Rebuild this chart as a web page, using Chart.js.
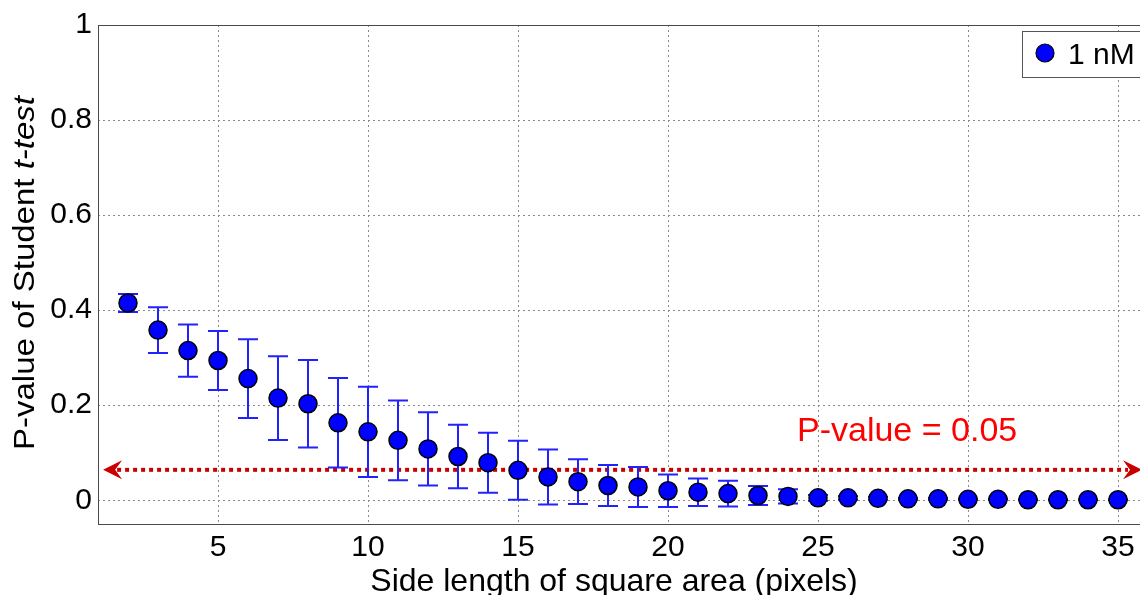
<!DOCTYPE html>
<html>
<head>
<meta charset="utf-8">
<title>P-value vs side length</title>
<script src="https://cdn.jsdelivr.net/npm/chart.js@4.4.1/dist/chart.umd.min.js"></script>
<style>
  html, body { margin: 0; padding: 0; background: #fff; overflow: hidden; }
  #wrap { width: 1140px; height: 595px; overflow: hidden; }
</style>
</head>
<body>
<div id="wrap"><canvas id="pvalChart" width="1160" height="595"></canvas></div>
<script>
// data
const sideLengths = [2, 3, 4, 5, 6, 7, 8, 9, 10, 11, 12, 13, 14, 15, 16, 17, 18,
  19, 20, 21, 22, 23, 24, 25, 26, 27, 28, 29, 30, 31, 32, 33, 34, 35];
const pValues = [0.415, 0.358, 0.315, 0.294, 0.256, 0.215, 0.203, 0.163, 0.144,
  0.126, 0.108, 0.092, 0.079, 0.063, 0.049, 0.039, 0.031, 0.028, 0.020, 0.017,
  0.014, 0.010, 0.008, 0.005, 0.005, 0.004, 0.003, 0.003, 0.002, 0.002, 0.001,
  0.001, 0.001, 0.001];
const pErrors = [0.019, 0.048, 0.055, 0.062, 0.083, 0.088, 0.092, 0.094, 0.095,
  0.084, 0.077, 0.067, 0.063, 0.062, 0.058, 0.047, 0.043, 0.042, 0.034, 0.029,
  0.027, 0.020, 0.015, 0.006, 0.004, 0.003, 0.002, 0.002, 0.001, 0.001, 0.001,
  0.001, 0.001, 0.001];
const xTicks = [5, 10, 15, 20, 25, 30, 35];
const yTicks = [0, 0.2, 0.4, 0.6, 0.8, 1];
const seriesLabel = '1 nM';
const xTitle = 'Side length of square area (pixels)';
const yTitleParts = ['P-value of Student ', 't-test'];   // second part is italic
const thresholdText = 'P-value = 0.05';
const thresholdLevel = 0.064;
const thresholdSpan = [1.17, 35.8];
const thresholdTextAt = [24.3, 0.124];

const FONT = "'Liberation Sans', Arial, sans-serif";
const BLUE = '#0000ff';
const BAR_BLUE = '#2222ff';
const RED_LINE = '#c80000';

function arrowHead(ctx, tipX, tipY, dir) {
  ctx.beginPath();
  ctx.moveTo(tipX, tipY);
  ctx.lineTo(tipX + dir * 19, tipY - 9.5);
  ctx.lineTo(tipX + dir * 12, tipY);
  ctx.lineTo(tipX + dir * 19, tipY + 9.5);
  ctx.closePath();
  ctx.fill();
}

const decorPlugin = {
  id: 'decor',
  beforeDatasetsDraw(chart) {
    const { ctx, chartArea: a, scales: { x, y } } = chart;
    ctx.save();
    // axes box
    ctx.strokeStyle = '#4a4a4a';
    ctx.lineWidth = 1;
    ctx.strokeRect(a.left + 0.5, a.top + 0.5, a.right - a.left, a.bottom - a.top);

    // dotted threshold arrow
    const ly = y.getPixelForValue(thresholdLevel);
    const lx0 = x.getPixelForValue(thresholdSpan[0]);
    const lx1 = x.getPixelForValue(thresholdSpan[1]);
    ctx.strokeStyle = RED_LINE;
    ctx.lineWidth = 4;
    ctx.setLineDash([4, 4]);
    ctx.beginPath();
    ctx.moveTo(lx0 + 14, ly);
    ctx.lineTo(lx1 - 14, ly);
    ctx.stroke();
    ctx.setLineDash([]);
    ctx.fillStyle = RED_LINE;
    arrowHead(ctx, lx0, ly, 1);
    arrowHead(ctx, lx1, ly, -1);

    // error bars
    ctx.strokeStyle = BAR_BLUE;
    ctx.lineWidth = 2;
    sideLengths.forEach((s, i) => {
      const px = x.getPixelForValue(s);
      const top = y.getPixelForValue(pValues[i] + pErrors[i]);
      const bot = y.getPixelForValue(pValues[i] - pErrors[i]);
      ctx.beginPath();
      ctx.moveTo(px, top); ctx.lineTo(px, bot);
      ctx.moveTo(px - 10, top); ctx.lineTo(px + 10, top);
      ctx.moveTo(px - 10, bot); ctx.lineTo(px + 10, bot);
      ctx.stroke();
    });
    ctx.restore();
  },
  afterDraw(chart) {
    const { ctx, chartArea: a, scales: { x, y } } = chart;
    ctx.save();

    // threshold label
    ctx.fillStyle = '#ff0000';
    ctx.font = `34px ${FONT}`;
    ctx.textAlign = 'left';
    ctx.textBaseline = 'alphabetic';
    ctx.fillText(thresholdText, x.getPixelForValue(thresholdTextAt[0]), y.getPixelForValue(thresholdTextAt[1]));

    // x title
    ctx.fillStyle = '#000';
    ctx.font = `32px ${FONT}`;
    ctx.textAlign = 'center';
    ctx.fillText(xTitle, (a.left + a.right) / 2 - 9, 591);

    // y title, with italic t-test (slightly stretched along its length)
    const normalFont = `30px ${FONT}`;
    const italicFont = `italic 30px ${FONT}`;
    ctx.font = normalFont;
    const w1 = ctx.measureText(yTitleParts[0]).width;
    ctx.font = italicFont;
    const w2 = ctx.measureText(yTitleParts[1]).width;
    ctx.translate(34, 273);
    ctx.rotate(-Math.PI / 2);
    ctx.scale(1.1, 1);
    ctx.textAlign = 'left';
    const start = -(w1 + w2) / 2;
    ctx.font = normalFont;
    ctx.fillText(yTitleParts[0], start, 0);
    ctx.font = italicFont;
    ctx.fillText(yTitleParts[1], start + w1, 0);
    ctx.setTransform(1, 0, 0, 1, 0, 0);

    // legend box
    const bx = a.right - 126, by = a.top + 6, bh = 46;
    ctx.fillStyle = '#fff';
    ctx.fillRect(bx, by, 140, bh);
    ctx.strokeStyle = '#555';
    ctx.lineWidth = 1;
    ctx.strokeRect(bx + 0.5, by + 0.5, 140, bh);
    ctx.beginPath();
    ctx.arc(bx + 23, by + 22, 9, 0, Math.PI * 2);
    ctx.fillStyle = BLUE;
    ctx.fill();
    ctx.lineWidth = 1.2;
    ctx.strokeStyle = '#000';
    ctx.stroke();
    ctx.fillStyle = '#000';
    ctx.font = `30px ${FONT}`;
    ctx.textAlign = 'left';
    ctx.fillText(seriesLabel, bx + 46, by + 33);
    ctx.restore();
  }
};

const ctx = document.getElementById('pvalChart').getContext('2d');
const pvalChart = new Chart(ctx, {
  type: 'scatter',
  data: {
    datasets: [{
      label: seriesLabel,
      data: sideLengths.map((s, i) => ({ x: s, y: pValues[i] })),
      backgroundColor: BLUE,
      borderColor: '#000',
      borderWidth: 1.5,
      pointRadius: 9,
      pointHoverRadius: 9
    }]
  },
  options: {
    responsive: false,
    animation: false,
    devicePixelRatio: 1,
    layout: { padding: { top: 25, right: 12, left: 0, bottom: 0 } },
    plugins: {
      legend: { display: false },
      tooltip: { enabled: false }
    },
    scales: {
      x: {
        type: 'linear',
        min: 1,
        max: 36,
        afterFit: (s) => { s.height = 71; },
        afterBuildTicks: (s) => { s.ticks = xTicks.map(v => ({ value: v })); },
        grid: { color: '#8a8a8a', drawTicks: false },
        border: { display: false, dash: [2, 3] },
        ticks: { color: '#000', font: { family: FONT, size: 30 }, padding: 6, maxRotation: 0, autoSkip: false }
      },
      y: {
        min: -0.05,
        max: 1,
        afterFit: (s) => { s.width = 98; },
        afterBuildTicks: (s) => { s.ticks = yTicks.map(v => ({ value: v })); },
        grid: { color: '#8a8a8a', drawTicks: false },
        border: { display: false, dash: [2, 3] },
        ticks: {
          color: '#000',
          font: { family: FONT, size: 30 },
          padding: 6,
          callback: (v) => String(v)
        }
      }
    }
  },
  plugins: [decorPlugin]
});
</script>
</body>
</html>
